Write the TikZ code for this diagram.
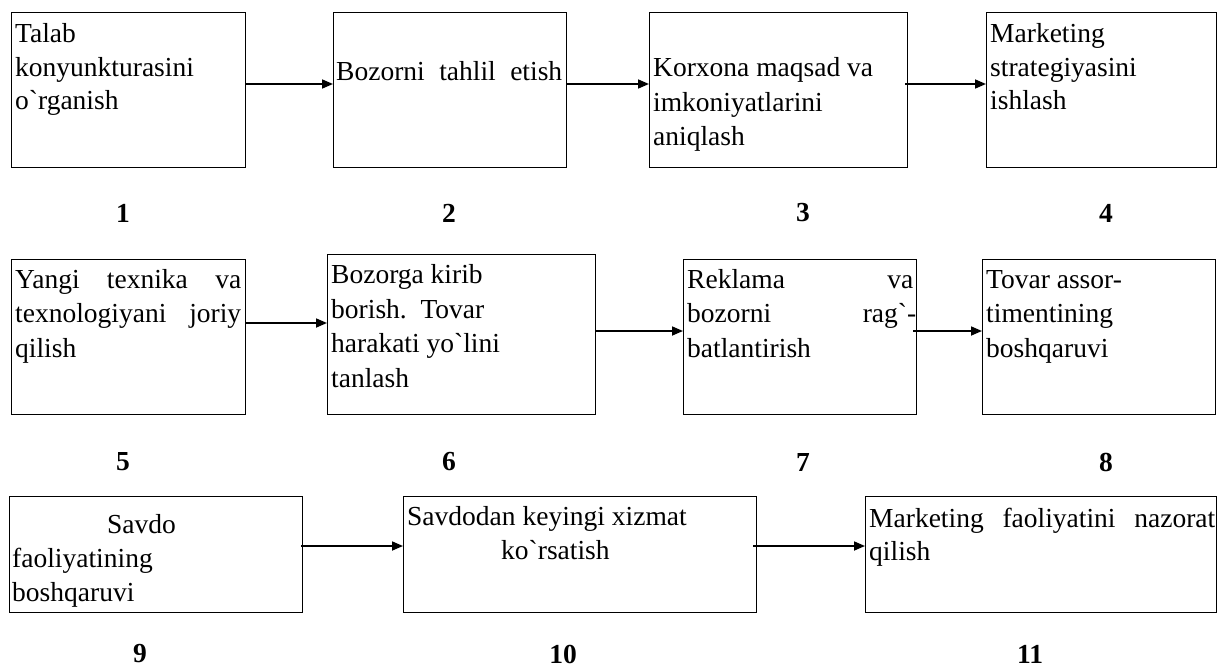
\documentclass[tikz,border=0pt]{standalone}
\usepackage{fontspec}
\setmainfont{Liberation Serif}
\usetikzlibrary{arrows.meta}
\newcommand{\gv}{\textasciigrave}
\begin{document}
\begin{tikzpicture}[x=1pt,y=-1pt,
  stage/.style={draw, line width=1.3pt, rectangle, inner sep=0pt, anchor=north west},
  txt/.style={anchor=base west, inner sep=0pt, font=\fontsize{27.5}{34}\selectfont},
  num/.style={anchor=center, inner sep=0pt, font=\fontsize{27.5}{34}\selectfont\bfseries},
  flow/.style={line width=1.7pt, -{Triangle[length=11pt,width=9pt]}}]
\useasboundingbox (0,0) rectangle (1218,669);

% stage boxes
\node[stage, minimum width=234pt, minimum height=155pt] (b1)  at (11,12) {};
\node[stage, minimum width=233pt, minimum height=155pt] (b2)  at (333,12) {};
\node[stage, minimum width=258pt, minimum height=155pt] (b3)  at (649,12) {};
\node[stage, minimum width=230pt, minimum height=155pt] (b4)  at (986,12) {};
\node[stage, minimum width=234pt, minimum height=155pt] (b5)  at (11,259) {};
\node[stage, minimum width=268pt, minimum height=160pt] (b6)  at (327,254) {};
\node[stage, minimum width=233pt, minimum height=155pt] (b7)  at (683,259) {};
\node[stage, minimum width=233pt, minimum height=155pt] (b8)  at (982,259) {};
\node[stage, minimum width=293pt, minimum height=116pt] (b9)  at (9,496) {};
\node[stage, minimum width=353pt, minimum height=116pt] (b10) at (403,496) {};
\node[stage, minimum width=351pt, minimum height=116pt] (b11) at (865,496) {};

% texts of the stages
\node[txt] (t1a) at (15,43)  {Talab};
\node[txt] (t1b) at (15,77)  {konyunkturasini};
\node[txt] (t1c) at (15,110) {o\gv rganish};

\node[txt] (t2a) at (336,81) {\hbox to 226pt{Bozorni\hfill tahlil\hfill etish}};

\node[txt] (t3a) at (653,77)  {Korxona maqsad va};
\node[txt] (t3b) at (653,111) {imkoniyatlarini};
\node[txt] (t3c) at (653,145) {aniqlash};

\node[txt] (t4a) at (990,43)  {Marketing};
\node[txt] (t4b) at (990,77)  {strategiyasini};
\node[txt] (t4c) at (990,110) {ishlash};

\node[txt] (t5a) at (15,288) {\hbox to 226pt{Yangi\hfill texnika\hfill va}};
\node[txt] (t5b) at (15,322) {\hbox to 226pt{texnologiyani\hfill joriy}};
\node[txt] (t5c) at (15,357) {qilish};

\node[txt] (t6a) at (331,283) {Bozorga kirib};
\node[txt] (t6b) at (331,318) {borish.\ \ Tovar};
\node[txt] (t6c) at (331,352) {harakati yo\gv lini};
\node[txt] (t6d) at (331,387) {tanlash};

\node[txt] (t7a) at (687,288) {\hbox to 226pt{Reklama\hfill va}};
\node[txt] (t7b) at (687,322) {\hbox to 229pt{bozorni\hfill rag\gv -}};
\node[txt] (t7c) at (687,357) {batlantirish};

\node[txt] (t8a) at (986,288) {Tovar assor-};
\node[txt] (t8b) at (986,322) {timentining};
\node[txt] (t8c) at (986,357) {boshqaruvi};

\node[txt] (t9a) at (107,533) {Savdo};
\node[txt] (t9b) at (12,567)  {faoliyatining};
\node[txt] (t9c) at (12,601)  {boshqaruvi};

\node[txt] (t10a) at (407,525) {Savdodan keyingi xizmat};
\node[txt] (t10b) at (501,559) {ko\gv rsatish};

\node[txt] (t11a) at (869,527) {\hbox to 346pt{Marketing\hfill faoliyatini\hfill nazorat}};
\node[txt] (t11b) at (869,560) {qilish};

% stage numbers
\node[num] (n1)  at (123,213)  {1};
\node[num] (n2)  at (449,213)  {2};
\node[num] (n3)  at (803,213)  {3};
\node[num] (n4)  at (1106,213) {4};
\node[num] (n5)  at (123,462)  {5};
\node[num] (n6)  at (449,462)  {6};
\node[num] (n7)  at (803,462)  {7};
\node[num] (n8)  at (1106,462) {8};
\node[num] (n9)  at (140,654)  {9};
\node[num] (n10) at (563,654)  {10};
\node[num] (n11) at (1030,654) {11};

% connectors
\draw[flow] (b1.east |- 0,84) -- (b2.west |- 0,84);
\draw[flow] (b2.east |- 0,84) -- (b3.west |- 0,84);
\draw[flow] ([xshift=-3pt]b3.east |- 0,84) -- (b4.west |- 0,84);
\draw[flow] (b5.east |- 0,323) -- (b6.west |- 0,323);
\draw[flow] (b6.east |- 0,331) -- (b7.west |- 0,331);
\draw[flow] ([xshift=-4pt]b7.east |- 0,331) -- (b8.west |- 0,331);
\draw[flow] ([xshift=-2pt]b9.east |- 0,546) -- (b10.west |- 0,546);
\draw[flow] ([xshift=-4pt]b10.east |- 0,546) -- (b11.west |- 0,546);
\end{tikzpicture}
\end{document}
